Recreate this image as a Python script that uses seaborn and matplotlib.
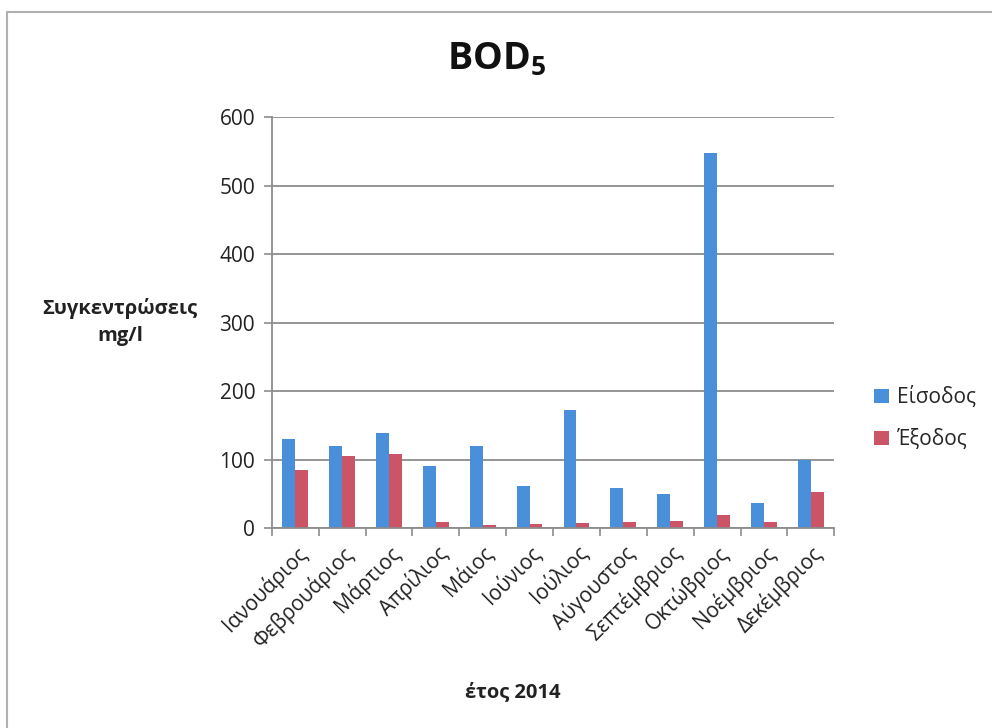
import matplotlib
matplotlib.use("Agg")
import matplotlib.pyplot as plt
import seaborn as sns
import pandas as pd
from matplotlib.patches import Patch
from matplotlib.lines import Line2D

months = ["Ιανουάριος", "Φεβρουάριος", "Μάρτιος", "Απρίλιος", "Μάιος", "Ιούνιος",
          "Ιούλιος", "Αύγουστος", "Σεπτέμβριος", "Οκτώβριος", "Νοέμβριος", "Δεκέμβριος"]
inflow = [130, 120, 139, 90, 120, 61, 173, 59, 49, 547, 36, 100]
outflow = [85, 105, 108, 9, 5, 6, 8, 9, 10, 19, 9, 53]
series_names = ["Είσοδος", "Έξοδος"]
colors = ["#4A8FDA", "#CB5466"]
yticks = [0, 100, 200, 300, 400, 500, 600]

df = pd.DataFrame({
    "month": months * 2,
    "value": inflow + outflow,
    "series": [series_names[0]] * len(months) + [series_names[1]] * len(months),
})

sns.set_theme(style="white")
plt.rcParams["font.family"] = ["Open Sans", "DejaVu Sans"]
plt.rcParams["mathtext.fontset"] = "custom"
plt.rcParams["mathtext.bf"] = "Open Sans:bold"
plt.rcParams["mathtext.rm"] = "Open Sans"

fig = plt.figure(figsize=(9.92, 7.28), dpi=100)
ax = fig.add_axes([0.274, 0.2747, 0.567, 0.5645])

sns.barplot(data=df, x="month", y="value", hue="series", order=months,
            hue_order=series_names, palette=colors, width=0.55, saturation=1,
            ax=ax, legend=False, linewidth=0)

ax.set_ylim(0, 600)
ax.set_xlim(-0.5, len(months) - 0.5)
ax.set_yticks(yticks)
ax.set_yticklabels([str(v) for v in yticks], fontsize=15, color="#222222")
ax.yaxis.grid(True, color="#8c8c8c", linewidth=1.3)
ax.set_axisbelow(True)

# category ticks sit between the groups, labels at the centres
ax.set_xticks(range(len(months)))
ax.set_xticklabels(months, rotation=45, ha="right", va="top", rotation_mode="anchor",
                   fontsize=15, color="#222222")
ax.tick_params(axis="x", which="major", length=0, pad=10)
ax.set_xticks([i - 0.5 for i in range(len(months) + 1)], minor=True)
ax.tick_params(axis="x", which="minor", length=6, width=1.2, color="#8c8c8c",
               direction="out", bottom=True)
ax.tick_params(axis="y", length=6, width=1.2, color="#8c8c8c", direction="out",
               left=True, pad=6)

for side in ["top", "right"]:
    ax.spines[side].set_visible(False)
for side in ["left", "bottom"]:
    ax.spines[side].set_color("#8c8c8c")
    ax.spines[side].set_linewidth(1.3)

ax.set_xlabel("")
ax.set_ylabel("")

fig.text(120 / 992, 1 - 322 / 728, "Συγκεντρώσεις\nmg/l", ha="center", va="center",
         fontsize=14.5, fontweight="bold", color="#222222", linespacing=1.5)
fig.text(513 / 992, 1 - 692 / 728, "έτος 2014", ha="center", va="center",
         fontsize=14.5, fontweight="bold", color="#222222")
fig.text(497 / 992, 1 - 60 / 728, r"$\mathbf{BOD_5}$", ha="center", va="center",
         fontsize=27, color="#111111")

handles = [Patch(facecolor=c, edgecolor="none") for c in colors]
fig.legend(handles, series_names, loc="upper left",
           bbox_to_anchor=(866 / 992, 1 - 378 / 728), frameon=False,
           fontsize=15, handlelength=0.7, handleheight=0.7, handletextpad=0.4,
           labelspacing=1.0, borderaxespad=0)

# light outer frame around the chart area
fig.add_artist(Line2D([7 / 992, 7 / 992], [0, 1 - 12 / 728], color="#b0b0b0",
                      linewidth=1.5, transform=fig.transFigure))
fig.add_artist(Line2D([7 / 992, 1], [1 - 12 / 728, 1 - 12 / 728], color="#b0b0b0",
                      linewidth=1.5, transform=fig.transFigure))

fig.savefig("out.png", dpi=100)
